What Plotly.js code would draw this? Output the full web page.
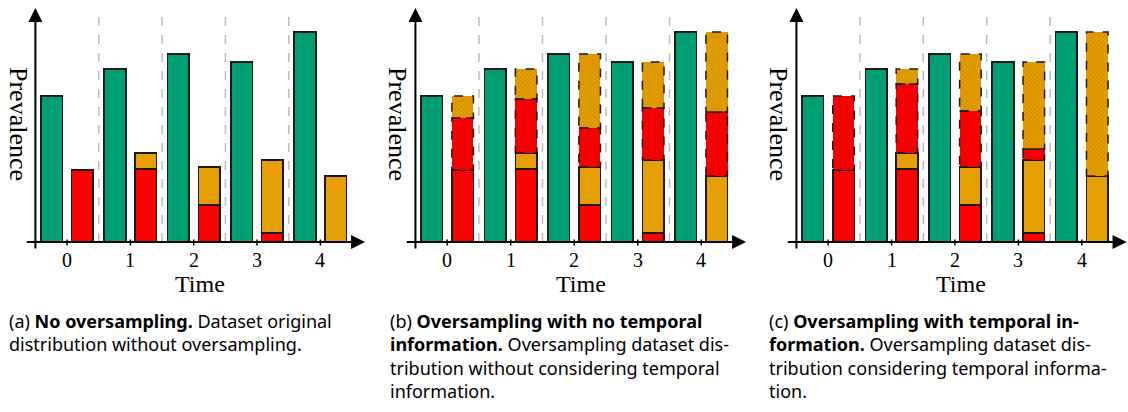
<!DOCTYPE html>
<html>
<head>
<meta charset="utf-8">
<script src="https://cdn.plot.ly/plotly-3.0.1.min.js"></script>
<style>
  html, body { margin: 0; padding: 0; background: #fff; }
  #chart { width: 1128px; height: 412px; }
</style>
</head>
<body>
<div id="chart"></div>
<script>
// ---------------- DATA ----------------
const timeSteps = [0, 1, 2, 3, 4];
const tickLabels = ["0", "1", "2", "3", "4"];
// majority class (green)
const majority = [14.6, 17.3, 18.8, 18.0, 21.0];
// minority, older samples (red) and newer samples (orange)
const minorityOld = [7.2, 7.3, 3.7, 0.9, 0.0];
const minorityNew = [0.0, 1.6, 3.8, 7.3, 6.6];
// (b) oversampling without temporal information: synthetic samples
const synthOldB = [5.2, 5.4, 3.9, 5.2, 6.4];
const synthNewB = [2.2, 3.0, 7.4, 4.6, 8.0];
// (c) oversampling with temporal information: synthetic samples
const synthOldC = [7.4, 6.9, 5.6, 1.1, 0.0];
const synthNewC = [0.0, 1.5, 5.7, 8.7, 14.4];

const captionA = ["(a) <b>No oversampling.</b> Dataset original", "distribution without oversampling."];
const captionB = ["(b) <b>Oversampling with no temporal</b>", "<b>information.</b> Oversampling dataset dis-", "tribution without considering temporal", "information."];
const captionC = ["(c) <b>Oversampling with temporal in-</b>", "<b>formation.</b> Oversampling dataset dis-", "tribution considering temporal informa-", "tion."];

// ---------------- STYLE ----------------
const W = 1128, H = 412;
const GREEN = "#009E73", RED = "#FF0000", ORANGE = "#E69F00";
const EDGE = "#1a1a1a";
const OFF = 0.243, BW = 0.34;
const SERIF = "Liberation Serif, Times New Roman, serif";
const SANS = "Noto Sans, Open Sans, sans-serif";
const PX = x => x / W;
const PY = y => 1 - y / H;
const XR = [-0.68, 4.72], YR = [-1.0, 23.5];

const panels = [
  { ax: "", dom: [24, 366], synthOld: null, synthNew: null, caption: captionA, capX: 7, ylabX: 18 },
  { ax: "2", dom: [404, 747], synthOld: synthOldB, synthNew: synthNewB, caption: captionB, capX: 388, ylabX: 397 },
  { ax: "3", dom: [785, 1127.5], synthOld: synthOldC, synthNew: synthNewC, caption: captionC, capX: 767, ylabX: 778 }
];

const traces = [], shapes = [], annotations = [];
const layout = {
  width: W, height: H,
  margin: { l: 0, r: 0, t: 0, b: 0 },
  paper_bgcolor: "#fff", plot_bgcolor: "rgba(0,0,0,0)",
  barmode: "stack", showlegend: false,
  shapes: shapes, annotations: annotations
};

function hatch(fg) {
  return { shape: "x", fillmode: "overlay", fgcolor: fg, size: 3, solidity: 0.35 };
}

panels.forEach(p => {
  const xa = "x" + p.ax, ya = "y" + p.ax;
  const left = timeSteps.map(t => t - OFF);
  const right = timeSteps.map(t => t + OFF);
  const solidLine = { color: EDGE, width: 1.5 };

  traces.push({ type: "bar", x: left, y: majority, width: BW, xaxis: xa, yaxis: ya,
    marker: { color: GREEN, line: solidLine }, hoverinfo: "skip" });
  traces.push({ type: "bar", x: right, y: minorityOld, width: BW, xaxis: xa, yaxis: ya,
    marker: { color: RED, line: solidLine }, hoverinfo: "skip" });
  traces.push({ type: "bar", x: right, y: minorityNew, width: BW, xaxis: xa, yaxis: ya,
    marker: { color: ORANGE, line: solidLine }, hoverinfo: "skip" });

  if (p.synthOld) {
    traces.push({ type: "bar", x: right, y: p.synthOld, width: BW, xaxis: xa, yaxis: ya,
      marker: { color: RED, line: { width: 0 }, pattern: hatch("rgba(110,0,0,0.55)") }, hoverinfo: "skip" });
    traces.push({ type: "bar", x: right, y: p.synthNew, width: BW, xaxis: xa, yaxis: ya,
      marker: { color: ORANGE, line: { width: 0 }, pattern: hatch("rgba(120,70,0,0.55)") }, hoverinfo: "skip" });
    // dashed outlines of synthetic segments
    timeSteps.forEach((t, i) => {
      let base = minorityOld[i] + minorityNew[i];
      [p.synthOld[i], p.synthNew[i]].forEach(h => {
        if (h > 0) {
          shapes.push({ type: "rect", xref: xa, yref: ya,
            x0: t + OFF - BW / 2, x1: t + OFF + BW / 2, y0: base, y1: base + h,
            line: { color: EDGE, width: 1.5, dash: "dash" }, fillcolor: "rgba(0,0,0,0)" });
        }
        base += h;
      });
    });
  }

  // separators
  timeSteps.slice(0, -1).forEach(t => {
    shapes.push({ type: "line", xref: xa, yref: ya, x0: t + 0.5, x1: t + 0.5, y0: 0, y1: 23.1,
      line: { color: "#bdbdbd", width: 1.5, dash: "dash" }, layer: "below" });
  });
  // tick marks
  timeSteps.forEach(t => {
    shapes.push({ type: "line", xref: xa, yref: ya, x0: t, x1: t, y0: -0.35, y1: 0.25,
      line: { color: "#000", width: 1.5 } });
  });
  // axes arrows
  annotations.push({ xref: xa, yref: ya, axref: xa, ayref: ya, x: 4.705, y: 0, ax: -0.66, ay: 0,
    text: "", showarrow: true, arrowhead: 2, arrowsize: 1.4, arrowwidth: 2, arrowcolor: "#000", standoff: 0, startstandoff: 0 });
  annotations.push({ xref: xa, yref: ya, axref: xa, ayref: ya, x: -0.5, y: 23.4, ax: -0.5, ay: -0.8,
    text: "", showarrow: true, arrowhead: 2, arrowsize: 1.4, arrowwidth: 2, arrowcolor: "#000", standoff: 0, startstandoff: 0 });
  // tick labels
  timeSteps.forEach((t, i) => {
    annotations.push({ xref: xa, yref: "paper", x: t, y: PY(260), text: tickLabels[i], showarrow: false,
      xanchor: "center", yanchor: "middle", font: { family: SERIF, size: 20, color: "#000" } });
  });
  annotations.push({ xref: xa, yref: "paper", x: 2.1, y: PY(284), text: "Time", showarrow: false,
    xanchor: "center", yanchor: "middle", font: { family: SERIF, size: 24, color: "#000" } });
  annotations.push({ xref: "paper", yref: "paper", x: PX(p.ylabX), y: PY(124), text: "Prevalence", showarrow: false,
    textangle: 90, xanchor: "center", yanchor: "middle", font: { family: SERIF, size: 26, color: "#000" } });
  // caption
  annotations.push({ xref: "paper", yref: "paper", x: PX(p.capX), y: PY(307), text: p.caption.join("<br>"), showarrow: false,
    xanchor: "left", yanchor: "top", align: "left", font: { family: SANS, size: 18, color: "#000" } });

  const axCommon = { showgrid: false, zeroline: false, showline: false, showticklabels: false, ticks: "", fixedrange: true };
  layout["xaxis" + p.ax] = Object.assign({}, axCommon, { range: XR, domain: [PX(p.dom[0]), PX(p.dom[1])], anchor: ya });
  layout["yaxis" + p.ax] = Object.assign({}, axCommon, { range: YR, domain: [PY(252), PY(7)], anchor: xa });
});

Plotly.newPlot("chart", traces, layout, { staticPlot: true });
</script>
</body>
</html>
